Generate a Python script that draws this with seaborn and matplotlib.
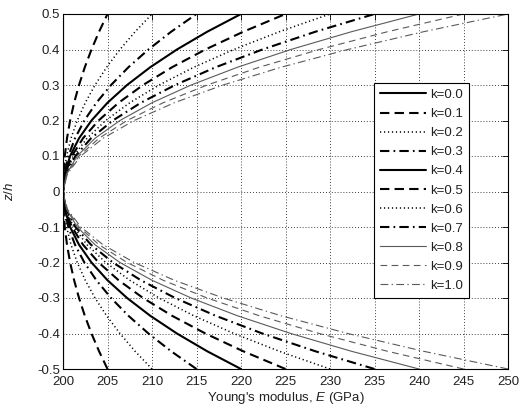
import numpy as np
import pandas as pd
import matplotlib
matplotlib.use("Agg")
import matplotlib.pyplot as plt
import seaborn as sns

# ---- data (upper half; curves are mirror-symmetric about z/h = 0)
z_half = [0.0, 0.05, 0.10, 0.15, 0.20, 0.25, 0.30, 0.35, 0.40, 0.45, 0.50]
k_labels = ["k=0.0", "k=0.1", "k=0.2", "k=0.3", "k=0.4", "k=0.5",
            "k=0.6", "k=0.7", "k=0.8", "k=0.9", "k=1.0"]
E_k00 = [200.0, 200.0, 200.0, 200.0, 200.0, 200.0, 200.0, 200.0, 200.0, 200.0, 200.0]
E_k01 = [200.0, 200.05, 200.2, 200.45, 200.8, 201.25, 201.8, 202.45, 203.2, 204.05, 205.0]
E_k02 = [200.0, 200.1, 200.4, 200.9, 201.6, 202.5, 203.6, 204.9, 206.4, 208.1, 210.0]
E_k03 = [200.0, 200.15, 200.6, 201.35, 202.4, 203.75, 205.4, 207.35, 209.6, 212.15, 215.0]
E_k04 = [200.0, 200.2, 200.8, 201.8, 203.2, 205.0, 207.2, 209.8, 212.8, 216.2, 220.0]
E_k05 = [200.0, 200.25, 201.0, 202.25, 204.0, 206.25, 209.0, 212.25, 216.0, 220.25, 225.0]
E_k06 = [200.0, 200.3, 201.2, 202.7, 204.8, 207.5, 210.8, 214.7, 219.2, 224.3, 230.0]
E_k07 = [200.0, 200.35, 201.4, 203.15, 205.6, 208.75, 212.6, 217.15, 222.4, 228.35, 235.0]
E_k08 = [200.0, 200.4, 201.6, 203.6, 206.4, 210.0, 214.4, 219.6, 225.6, 232.4, 240.0]
E_k09 = [200.0, 200.45, 201.8, 204.05, 207.2, 211.25, 216.2, 222.05, 228.8, 236.45, 245.0]
E_k10 = [200.0, 200.5, 202.0, 204.5, 208.0, 212.5, 218.0, 224.5, 232.0, 240.5, 250.0]
E_series = [E_k00, E_k01, E_k02, E_k03, E_k04, E_k05, E_k06, E_k07, E_k08, E_k09, E_k10]
x_ticks = [200, 205, 210, 215, 220, 225, 230, 235, 240, 245, 250]
y_ticks = [-0.5, -0.4, -0.3, -0.2, -0.1, 0.0, 0.1, 0.2, 0.3, 0.4, 0.5]
y_ticklabels = ["-0.5", "-0.4", "-0.3", "-0.2", "-0.1", "0", "0.1", "0.2", "0.3", "0.4", "0.5"]

# ---- style
sns.set_theme(style="white")
plt.rcParams["font.family"] = ["Liberation Sans", "DejaVu Sans"]
plt.rcParams["mathtext.fontset"] = "custom"
plt.rcParams["mathtext.it"] = "Liberation Sans:italic"
plt.rcParams["mathtext.rm"] = "Liberation Sans"

FS = 9.5
styles = ["-", (0, (4.5, 2.5)), (0, (0.8, 1.8)), (0, (4.5, 2.0, 0.8, 2.0)),
          "-", (0, (4.5, 2.5)), (0, (0.8, 1.8)), (0, (4.5, 2.0, 0.8, 2.0)),
          "-", (0, (6, 4)), (0, (7, 3, 1.2, 3))]
colors = ["black"] * 8 + ["#5a5a5a"] * 3
widths = [1.5, 1.5, 1.1, 1.5, 1.5, 1.5, 1.1, 1.5, 0.8, 0.8, 0.8]

rows = []
for lab, E in zip(k_labels, E_series):
    zs = [-v for v in z_half[::-1]] + z_half[1:]
    Es = E[::-1] + E[1:]
    for zz, ee in zip(zs, Es):
        rows.append({"k": lab, "E": ee, "z": zz})
df = pd.DataFrame(rows)

fig = plt.figure(figsize=(5.30, 4.07), dpi=100)
ax = fig.add_axes([63 / 530, 1 - 369 / 407, 445 / 530, 355 / 407])

for i, lab in enumerate(k_labels):
    sub = df[df["k"] == lab]
    sns.lineplot(data=sub, x="E", y="z", sort=False, estimator=None, ax=ax,
                 color=colors[i], linestyle=styles[i], linewidth=widths[i], label=lab)

ax.set_xlim(200, 250)
ax.set_ylim(-0.5, 0.5)
ax.set_xticks(x_ticks)
ax.set_yticks(y_ticks)
ax.set_yticklabels(y_ticklabels)
ax.tick_params(direction="in", length=4, width=0.6, top=True, right=True,
               labelsize=FS, colors="black", labelcolor="#222222")
ax.tick_params(axis="x", pad=5)
ax.tick_params(axis="y", pad=2)
ax.grid(True, color="black", linestyle=(0, (1, 2.5)), linewidth=0.6)
for s in ax.spines.values():
    s.set_color("black")
    s.set_linewidth(0.8)
    s.set_visible(True)

ax.set_xlabel(r"Young's modulus, $\mathit{E}$ (GPa)", fontsize=FS, color="#222222")
ax.set_ylabel(r"$\mathit{z/h}$", fontsize=FS, color="#222222")
ax.xaxis.set_label_coords(0.5, -0.058)
ax.yaxis.set_label_coords(-0.106, 0.5)

leg = ax.legend(loc="upper left", bbox_to_anchor=(0.699, 0.806), fontsize=FS,
                frameon=True, fancybox=False, framealpha=1, edgecolor="black",
                handlelength=3.5, labelspacing=0.52, borderpad=0.45,
                handletextpad=0.3, borderaxespad=0)
leg.get_frame().set_linewidth(0.8)
for t in leg.get_texts():
    t.set_color("#222222")

fig.savefig("out.png", dpi=100)
